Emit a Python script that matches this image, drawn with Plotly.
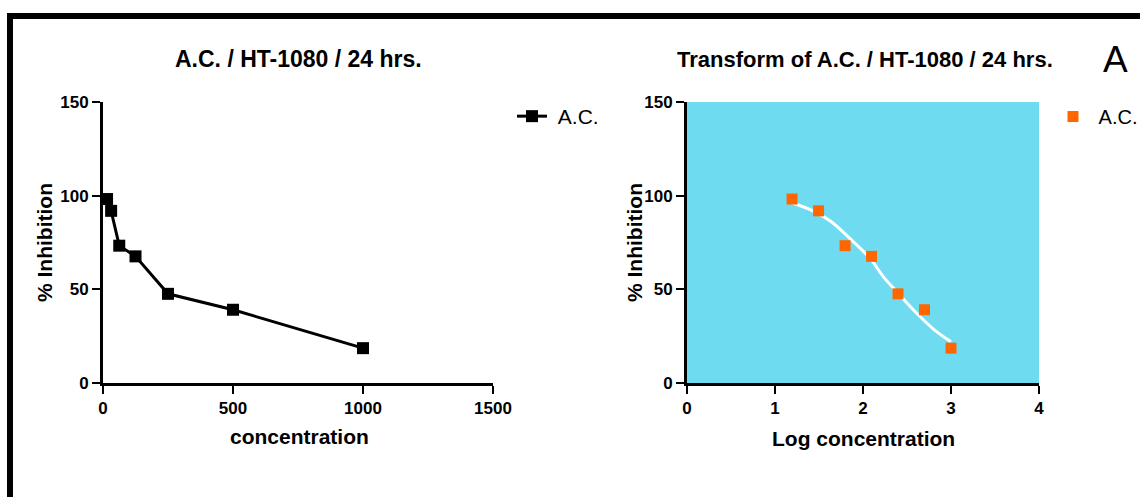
import plotly.graph_objects as go

# ---- data ----
conc = [15.625, 31.25, 62.5, 125, 250, 500, 1000]
inhibition = [98.2, 91.9, 73.3, 67.6, 47.6, 39.1, 18.6]
log_conc = [1.194, 1.495, 1.796, 2.097, 2.398, 2.699, 3.0]
fit_x = [1.19, 1.455, 1.64, 1.85, 2.08, 2.23, 2.40, 2.61, 2.80, 3.0]
fit_y = [96.2, 91.4, 86.1, 77.2, 66.6, 56.8, 47.9, 37.2, 28.8, 22.0]
y_ticks = [0, 50, 100, 150]
x1_ticks = [0, 500, 1000, 1500]
x2_ticks = [0, 1, 2, 3, 4]
series_name = "\u00a0A.C."

W, H = 1140, 497
def fx(px):
    return px / W
def fy(py):
    return 1 - py / H

FONT = "Liberation Sans, Arial, sans-serif"
BLUE = "#6FDBF0"
ORANGE = "#FF6600"

fig = go.Figure()

fig.add_trace(go.Scatter(
    x=conc, y=inhibition, mode="lines+markers", name=series_name,
    line=dict(color="black", width=3),
    marker=dict(symbol="square", size=12, color="black"),
    xaxis="x", yaxis="y", legend="legend", cliponaxis=False))

fig.add_trace(go.Scatter(
    x=fit_x, y=fit_y, mode="lines", line=dict(color="white", width=3, shape="spline"),
    showlegend=False, xaxis="x2", yaxis="y2", hoverinfo="skip"))

fig.add_trace(go.Scatter(
    x=log_conc, y=inhibition, mode="markers", name=series_name,
    marker=dict(symbol="square", size=11, color=ORANGE),
    xaxis="x2", yaxis="y2", legend="legend2", cliponaxis=False))

axis_common = dict(
    showline=True, linecolor="black", linewidth=3, ticks="outside",
    ticklen=8, tickwidth=2, tickcolor="black", showgrid=False, zeroline=False,
    automargin=False,
    tickfont=dict(family=FONT, size=17, color="black", weight="bold"),
)

ydom = [fy(383), fy(102)]
fig.update_layout(
    width=W, height=H,
    margin=dict(l=0, r=0, t=0, b=0, pad=0, autoexpand=False),
    paper_bgcolor="white", plot_bgcolor="rgba(0,0,0,0)",
    font=dict(family=FONT, color="black"),
    xaxis=dict(domain=[fx(103), fx(493)], range=[0, 1500], tickvals=x1_ticks, anchor="y", **axis_common),
    yaxis=dict(domain=ydom, range=[0, 150], tickvals=y_ticks, anchor="x", **axis_common),
    xaxis2=dict(domain=[fx(687), fx(1039)], range=[0, 4], tickvals=x2_ticks, anchor="y2", **axis_common),
    yaxis2=dict(domain=ydom, range=[0, 150], tickvals=y_ticks, anchor="x2", **axis_common),
    legend=dict(x=fx(512), y=fy(96), xanchor="left", yanchor="top",
                bgcolor="rgba(0,0,0,0)", font=dict(family=FONT, size=21, color="black")),
    legend2=dict(x=fx(1053), y=fy(97), xanchor="left", yanchor="top",
                 bgcolor="rgba(0,0,0,0)", font=dict(family=FONT, size=20, color="black")),
    showlegend=True,
)

# blue plot area of the right panel
fig.add_shape(type="rect", xref="x2 domain", yref="y2 domain", x0=0, x1=1, y0=0, y1=1,
              fillcolor=BLUE, line=dict(width=0), layer="below")
# black frame (left and top borders)
fig.add_shape(type="rect", xref="paper", yref="paper", x0=fx(7), x1=fx(13), y0=0, y1=fy(13),
              fillcolor="black", line=dict(width=0))
fig.add_shape(type="rect", xref="paper", yref="paper", x0=fx(7), x1=1, y0=fy(19), y1=fy(13),
              fillcolor="black", line=dict(width=0))

def ann(text, x, y, size, bold=True, angle=0):
    fig.add_annotation(text=text, x=fx(x), y=fy(y), xref="paper", yref="paper",
                       xanchor="center", yanchor="middle", showarrow=False, textangle=angle,
                       font=dict(family=FONT, size=size, color="black",
                                 weight="bold" if bold else "normal"))

ann("A.C. / HT-1080 / 24 hrs.", 298, 59, 23)
ann("Transform of A.C. / HT-1080 / 24 hrs.", 865, 59, 22)
ann("concentration", 299, 436, 21)
ann("Log concentration", 863, 438, 21)
ann("% Inhibition", 44, 243, 21, angle=-90)
ann("% Inhibition", 634, 243, 21, angle=-90)
ann("A", 1115, 59, 37, bold=False)

fig.write_html("out.html")
